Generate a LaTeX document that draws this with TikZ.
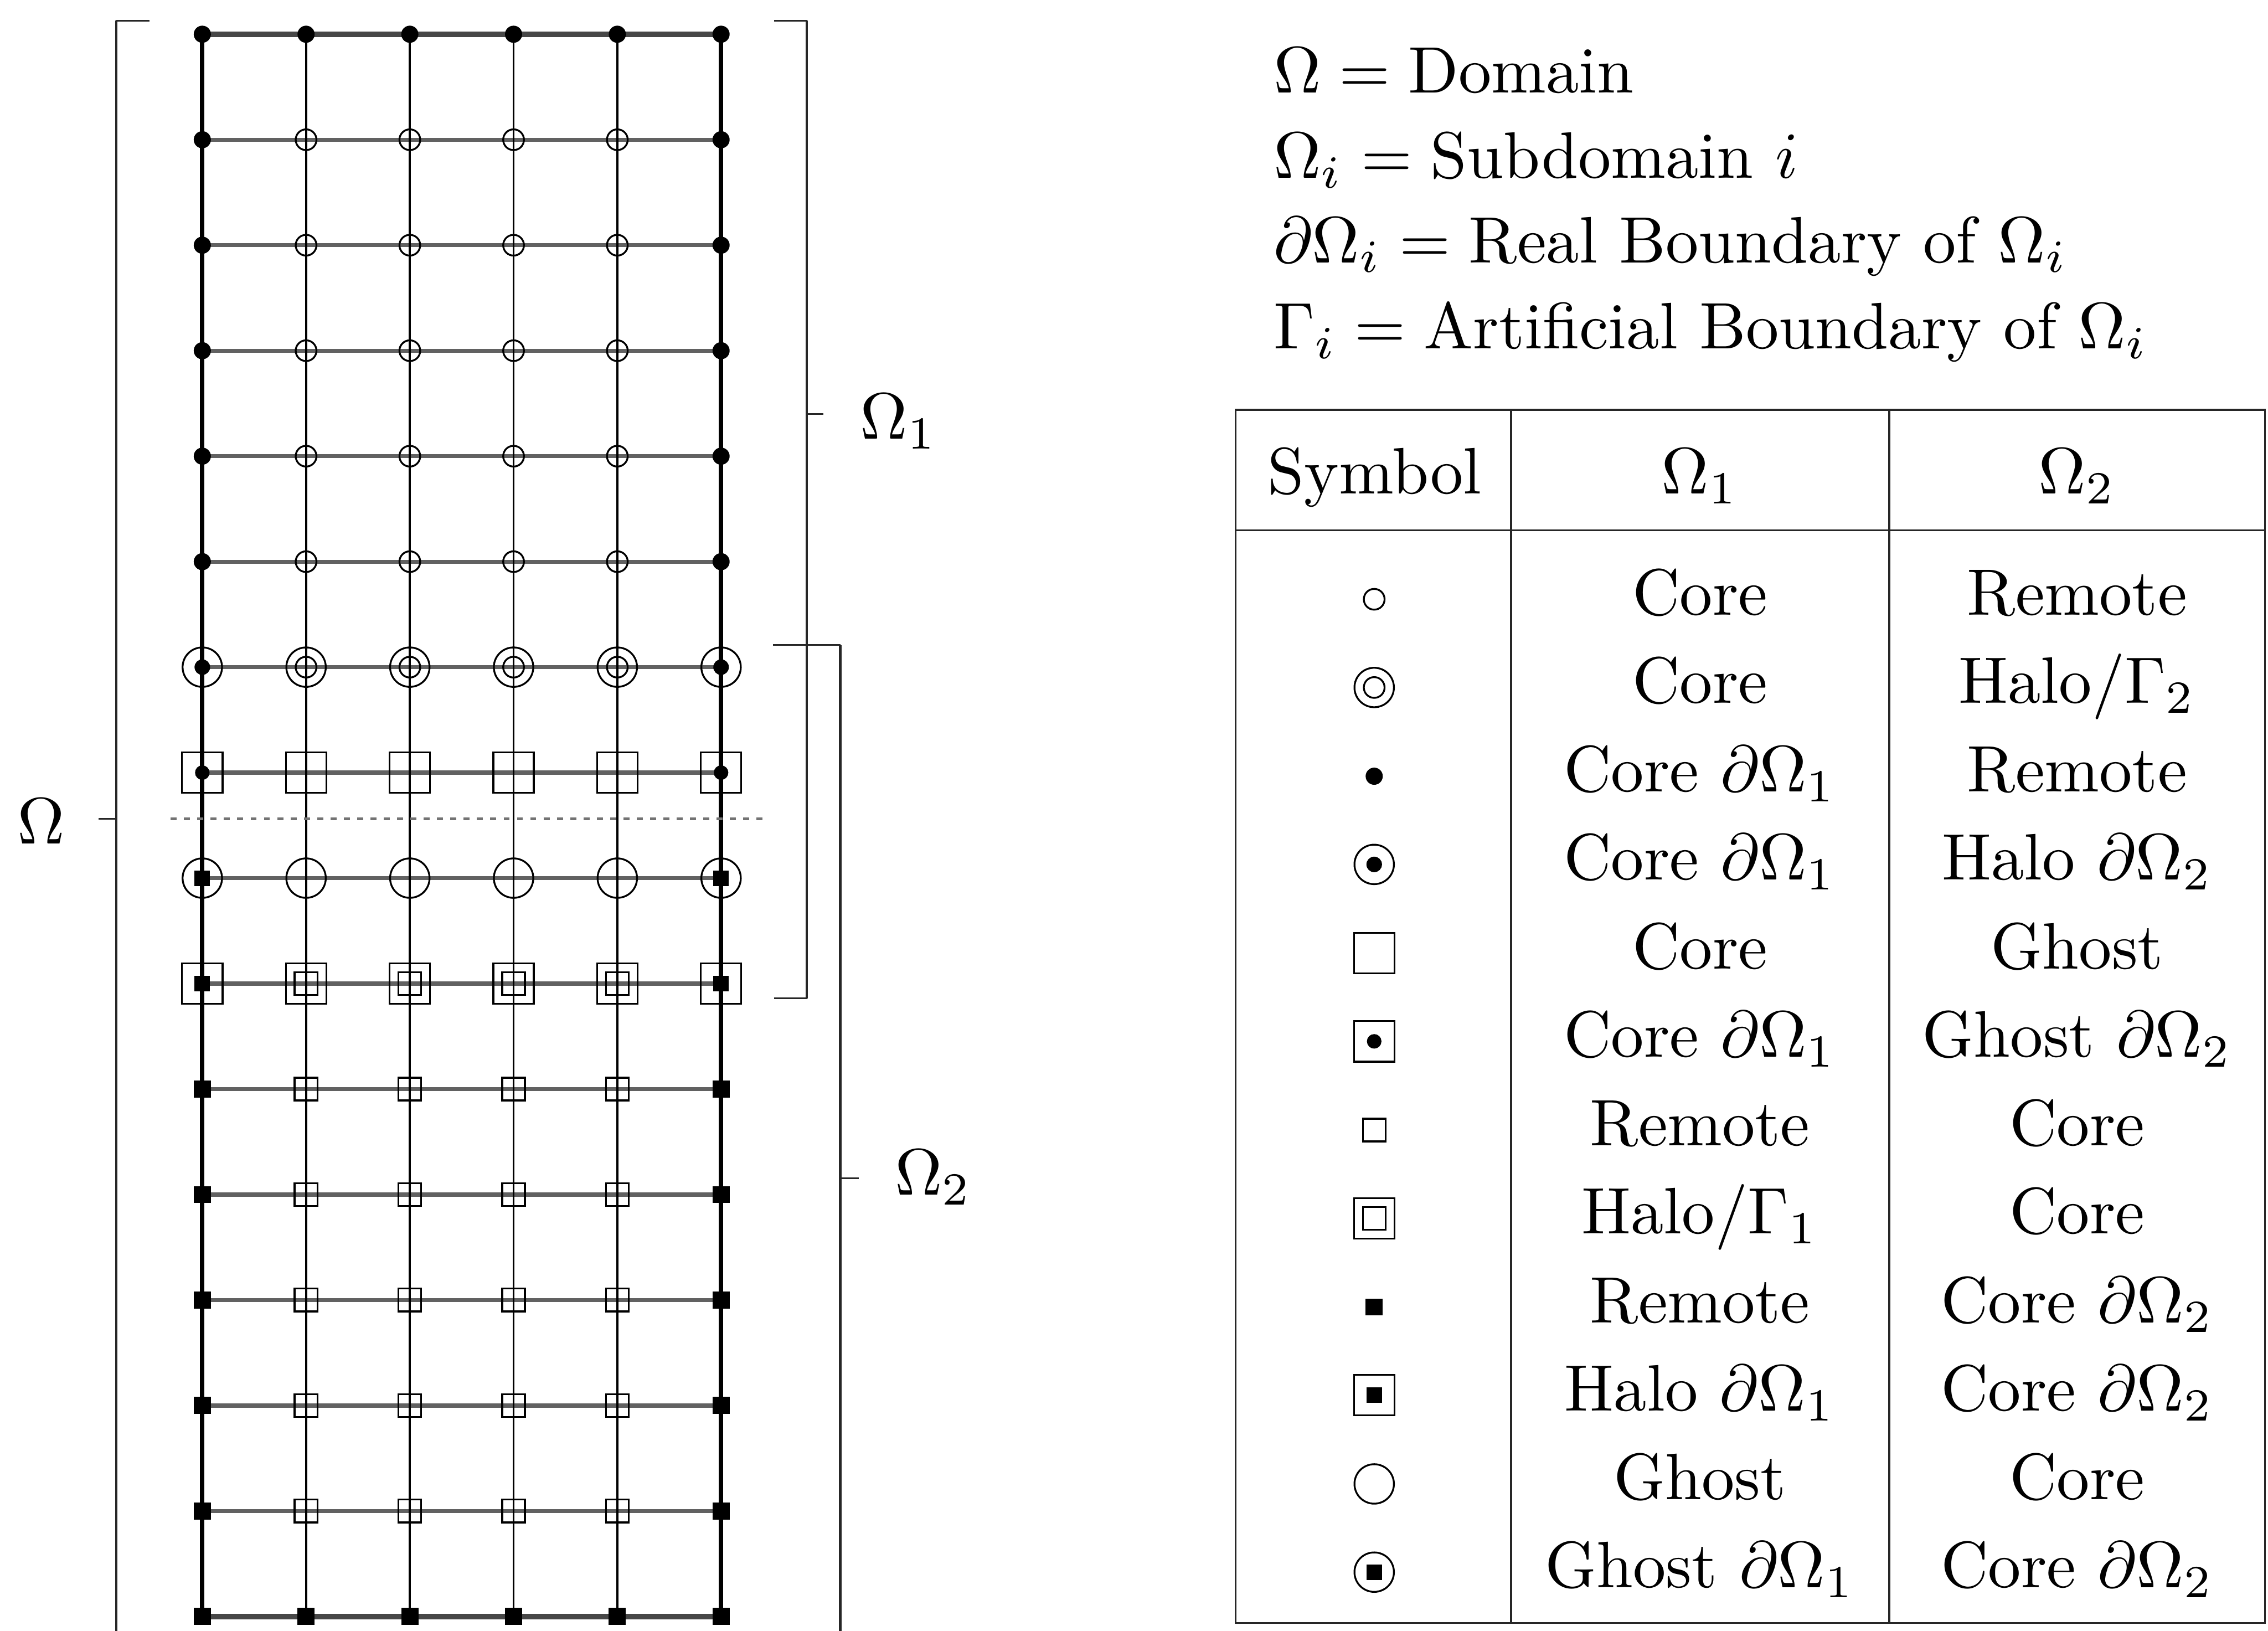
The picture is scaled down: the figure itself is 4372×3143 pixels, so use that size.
\RequirePackage{fix-cm}
\documentclass[tikz,border=0pt]{standalone}
\usepackage{graphicx}
\newcommand{\BigTxt}[1]{\scalebox{3.6}{#1}}
\begin{document}
\tikzset{
  txt/.style={font=\fontsize{10}{12}\selectfont, inner sep=0pt, outer sep=0pt},
  sym/.style={inner sep=0pt, outer sep=0pt, line width=1pt, draw=black},
  symRing/.style={sym, circle, minimum size=0.40cm},
  symBigRing/.style={sym, circle, minimum size=0.76cm},
  symDblRing/.style={symBigRing, path picture={\draw[line width=1pt] (path picture bounding box.center) circle (0.2cm);}},
  symRingDot/.style={symBigRing, path picture={\fill (path picture bounding box.center) circle (0.15cm);}},
  symRingSq/.style={symBigRing, path picture={\fill ([xshift=-0.15cm,yshift=-0.15cm]path picture bounding box.center) rectangle ([xshift=0.15cm,yshift=0.15cm]path picture bounding box.center);}},
  symDot/.style={circle, fill=black, draw=none, inner sep=0pt, outer sep=0pt, minimum size=0.33cm},
  symBox/.style={sym, rectangle, minimum size=0.78cm},
  symSBox/.style={sym, rectangle, minimum size=0.44cm},
  symBoxDot/.style={symBox, path picture={\fill (path picture bounding box.center) circle (0.14cm);}},
  symDblBox/.style={symBox, path picture={\draw[line width=1pt] ([xshift=-0.22cm,yshift=-0.22cm]path picture bounding box.center) rectangle ([xshift=0.22cm,yshift=0.22cm]path picture bounding box.center);}},
  symBoxSq/.style={symBox, path picture={\fill ([xshift=-0.15cm,yshift=-0.15cm]path picture bounding box.center) rectangle ([xshift=0.15cm,yshift=0.15cm]path picture bounding box.center);}},
  symSq/.style={rectangle, fill=black, draw=none, inner sep=0pt, outer sep=0pt, minimum size=0.33cm},
  hline/.style={line width=2.2pt, draw=black!62},
  hedge/.style={line width=3pt, draw=black!72},
  vline/.style={line width=1.1pt, draw=black},
  vedge/.style={line width=2.4pt, draw=black},
  dotline/.style={line width=1.6pt, draw=black!55, dash pattern=on 3.3pt off 4pt},
  brk/.style={line width=1.4pt, draw=black!85},
  brtick/.style={line width=0.8pt, draw=black!85},
  tbl/.style={line width=1.1pt, draw=black!85}
}
\begin{tikzpicture}[x=0.01cm, y=-0.01cm]
\useasboundingbox (0,0) rectangle (4372,3143);

% grid coordinates
\foreach \r in {0,...,15} {
  \foreach \c in {0,...,5} {
    \coordinate (p-\r-\c) at ({390+200*\c},{66+203.3*\r});
  }
}
% grid lines
\foreach \r in {1,...,14} { \draw[hline] (p-\r-0) -- (p-\r-5); }
\draw[hedge] (p-0-0) -- (p-0-5);
\draw[hedge] (p-15-0) -- (p-15-5);
\foreach \c in {1,...,4} { \draw[vline] (p-0-\c) -- (p-15-\c); }
\draw[vedge] (p-0-0) -- (p-15-0);
\draw[vedge] (p-0-5) -- (p-15-5);

% dotted interface line
\coordinate (dl) at (329,1578);
\coordinate (dr) at (1472,1578);
\draw[dotline] (dl) -- (dr);

% grid nodes
\foreach \c in {0,...,5} { \node[symDot] (n-0-\c) at (p-0-\c) {}; }
\foreach \r in {1,...,5} {
  \node[symDot] (n-\r-0) at (p-\r-0) {};
  \node[symDot] (n-\r-5) at (p-\r-5) {};
  \foreach \c in {1,...,4} { \node[symRing] (n-\r-\c) at (p-\r-\c) {}; }
}
\node[symRingDot] (n-6-0) at (p-6-0) {};
\node[symRingDot] (n-6-5) at (p-6-5) {};
\foreach \c in {1,...,4} { \node[symDblRing] (n-6-\c) at (p-6-\c) {}; }
\node[symBoxDot] (n-7-0) at (p-7-0) {};
\node[symBoxDot] (n-7-5) at (p-7-5) {};
\foreach \c in {1,...,4} { \node[symBox] (n-7-\c) at (p-7-\c) {}; }
\node[symRingSq] (n-8-0) at (p-8-0) {};
\node[symRingSq] (n-8-5) at (p-8-5) {};
\foreach \c in {1,...,4} { \node[symBigRing] (n-8-\c) at (p-8-\c) {}; }
\node[symBoxSq] (n-9-0) at (p-9-0) {};
\node[symBoxSq] (n-9-5) at (p-9-5) {};
\foreach \c in {1,...,4} { \node[symDblBox] (n-9-\c) at (p-9-\c) {}; }
\foreach \r in {10,...,14} {
  \node[symSq] (n-\r-0) at (p-\r-0) {};
  \node[symSq] (n-\r-5) at (p-\r-5) {};
  \foreach \c in {1,...,4} { \node[symSBox] (n-\r-\c) at (p-\r-\c) {}; }
}
\foreach \c in {0,...,5} { \node[symSq] (n-15-\c) at (p-15-\c) {}; }

% bracket Omega
\coordinate (bo-top) at (224,40);
\coordinate (bo-toptick) at (288,40);
\coordinate (bo-bot) at (224,3160);
\coordinate (bo-mid) at (224,1578);
\coordinate (bo-midtick) at (190,1578);
\draw[brk] (bo-top) -- (bo-bot);
\draw[brtick] (bo-toptick) -- (bo-top);
\draw[brtick] (bo-mid) -- (bo-midtick);
\node[txt, anchor=base west] (lblO) at (34,1626) {\BigTxt{$\Omega$}};

% bracket Omega 1
\coordinate (b1-top) at (1555,40);
\coordinate (b1-toptick) at (1492,40);
\coordinate (b1-bot) at (1555,1924);
\coordinate (b1-bottick) at (1492,1924);
\coordinate (b1-mid) at (1555,798);
\coordinate (b1-midtick) at (1587,798);
\draw[brk] (b1-top) -- (b1-bot);
\draw[brtick] (b1-toptick) -- (b1-top);
\draw[brtick] (b1-bottick) -- (b1-bot);
\draw[brtick] (b1-mid) -- (b1-midtick);
\node[txt, anchor=base west] (lblO1) at (1658,846) {\BigTxt{$\Omega_1$}};

% bracket Omega 2
\coordinate (b2-top) at (1620,1243);
\coordinate (b2-toptick) at (1490,1243);
\coordinate (b2-bot) at (1620,3160);
\coordinate (b2-mid) at (1620,2271);
\coordinate (b2-midtick) at (1655,2271);
\draw[brk] (b2-top) -- (b2-bot);
\draw[brtick] (b2-toptick) -- (b2-top);
\draw[brtick] (b2-mid) -- (b2-midtick);
\node[txt, anchor=base west] (lblO2) at (1725,2303) {\BigTxt{$\Omega_2$}};

% legend
\node[txt, anchor=base west] (lg1) at (2455,179) {\BigTxt{$\Omega = \mbox{Domain}$}};
\node[txt, anchor=base west] (lg2) at (2455,343) {\BigTxt{$\Omega_i = \mbox{Subdomain $i$}$}};
\node[txt, anchor=base west] (lg3) at (2455,506) {\BigTxt{$\partial\Omega_i = \mbox{Real Boundary of $\Omega_i$}$}};
\node[txt, anchor=base west] (lg4) at (2455,672) {\BigTxt{$\Gamma_i = \mbox{Artificial Boundary of $\Omega_i$}$}};

% table frame
\coordinate (t-tl) at (2382,790);
\coordinate (t-br) at (4366,3128);
\coordinate (t-hl) at (2382,1022);
\coordinate (t-hr) at (4366,1022);
\coordinate (t-d1t) at (2913,790);
\coordinate (t-d1b) at (2913,3128);
\coordinate (t-d2t) at (3642,790);
\coordinate (t-d2b) at (3642,3128);
\draw[tbl] (t-tl) rectangle (t-br);
\draw[tbl] (t-hl) -- (t-hr);
\draw[tbl] (t-d1t) -- (t-d1b);
\draw[tbl] (t-d2t) -- (t-d2b);

% header
\node[txt, anchor=base] (hSym) at (2650,952) {\BigTxt{Symbol}};
\node[txt, anchor=base] (hO1) at (3277,952) {\BigTxt{$\Omega_1$}};
\node[txt, anchor=base] (hO2) at (4004,952) {\BigTxt{$\Omega_2$}};

% rows
\node[symRing]    (s1)  at (2649,1155) {};
\node[txt, anchor=base] (a1)  at (3277,1185) {\BigTxt{Core}};
\node[txt, anchor=base] (b1)  at (4004,1185) {\BigTxt{Remote}};

\node[symDblRing] (s2)  at (2649,1325) {};
\node[txt, anchor=base] (a2)  at (3277,1355) {\BigTxt{Core}};
\node[txt, anchor=base] (b2)  at (4004,1355) {\BigTxt{Halo/$\Gamma_2$}};

\node[symDot]     (s3)  at (2649,1496) {};
\node[txt, anchor=base] (a3)  at (3277,1526) {\BigTxt{Core $\partial\Omega_1$}};
\node[txt, anchor=base] (b3)  at (4004,1526) {\BigTxt{Remote}};

\node[symRingDot] (s4)  at (2649,1666) {};
\node[txt, anchor=base] (a4)  at (3277,1696) {\BigTxt{Core $\partial\Omega_1$}};
\node[txt, anchor=base] (b4)  at (4004,1696) {\BigTxt{Halo $\partial\Omega_2$}};

\node[symBox]     (s5)  at (2649,1837) {};
\node[txt, anchor=base] (a5)  at (3277,1867) {\BigTxt{Core}};
\node[txt, anchor=base] (b5)  at (4004,1867) {\BigTxt{Ghost}};

\node[symBoxDot]  (s6)  at (2649,2007) {};
\node[txt, anchor=base] (a6)  at (3277,2037) {\BigTxt{Core $\partial\Omega_1$}};
\node[txt, anchor=base] (b6)  at (4004,2037) {\BigTxt{Ghost $\partial\Omega_2$}};

\node[symSBox]    (s7)  at (2649,2178) {};
\node[txt, anchor=base] (a7)  at (3277,2208) {\BigTxt{Remote}};
\node[txt, anchor=base] (b7)  at (4004,2208) {\BigTxt{Core}};

\node[symDblBox]  (s8)  at (2649,2348) {};
\node[txt, anchor=base] (a8)  at (3277,2378) {\BigTxt{Halo/$\Gamma_1$}};
\node[txt, anchor=base] (b8)  at (4004,2378) {\BigTxt{Core}};

\node[symSq]      (s9)  at (2649,2519) {};
\node[txt, anchor=base] (a9)  at (3277,2549) {\BigTxt{Remote}};
\node[txt, anchor=base] (b9)  at (4004,2549) {\BigTxt{Core $\partial\Omega_2$}};

\node[symBoxSq]   (s10) at (2649,2689) {};
\node[txt, anchor=base] (a10) at (3277,2719) {\BigTxt{Halo $\partial\Omega_1$}};
\node[txt, anchor=base] (b10) at (4004,2719) {\BigTxt{Core $\partial\Omega_2$}};

\node[symBigRing] (s11) at (2649,2860) {};
\node[txt, anchor=base] (a11) at (3277,2890) {\BigTxt{Ghost}};
\node[txt, anchor=base] (b11) at (4004,2890) {\BigTxt{Core}};

\node[symRingSq]  (s12) at (2649,3030) {};
\node[txt, anchor=base] (a12) at (3277,3060) {\BigTxt{Ghost $\partial\Omega_1$}};
\node[txt, anchor=base] (b12) at (4004,3060) {\BigTxt{Core $\partial\Omega_2$}};
\end{tikzpicture}
\end{document}
